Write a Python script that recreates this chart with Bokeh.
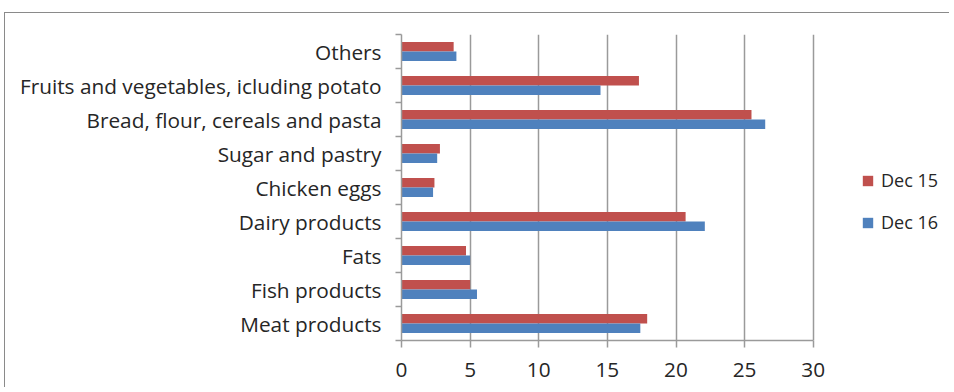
from bokeh.plotting import figure
from bokeh.models import ColumnDataSource, Range1d, FixedTicker, Legend, LegendItem
from bokeh.transform import dodge
from bokeh.embed import file_html
from bokeh.resources import INLINE

categories = ["Meat products", "Fish products", "Fats", "Dairy products", "Chicken eggs",
              "Sugar and pastry", "Bread, flour, cereals and pasta",
              "Fruits and vegetables, icluding potato", "Others"]
dec15 = [17.9, 5.0, 4.7, 20.7, 2.4, 2.8, 25.5, 17.3, 3.8]
dec16 = [17.4, 5.5, 5.0, 22.1, 2.3, 2.6, 26.5, 14.5, 4.0]
x_ticks = [0, 5, 10, 15, 20, 25, 30]
series_names = ["Dec 15", "Dec 16"]

FONT = "Open Sans"
TEXT = "#262626"
RED = "#C0504D"
BLUE = "#4F81BD"
GRID = "#9a9a9a"

n = len(categories)
pos = [i + 0.5 for i in range(n)]
src = ColumnDataSource(dict(pos=pos, cat=categories, dec15=dec15, dec16=dec16))

# frame extends right of 30 so the legend can live inside it; axis/grid bounded to 0..30
p = figure(width=945, height=375, output_backend="svg", toolbar_location=None,
           x_range=Range1d(0, 40), y_range=Range1d(0, n),
           min_border_left=396, min_border_top=21, min_border_right=0,
           min_border_bottom=48)
p.outline_line_color = None
p.background_fill_color = "white"
p.border_fill_color = "white"
p.styles = {"margin-left": "4px", "margin-top": "12px",
            "border-left": "1px solid #8a8a8a", "border-top": "1px solid #8a8a8a"}

r15 = p.hbar(y=dodge("pos", 0.14, range=p.y_range), right="dec15", left=0, height=0.28,
             source=src, fill_color=RED, line_color=None)
r16 = p.hbar(y=dodge("pos", -0.14, range=p.y_range), right="dec16", left=0, height=0.28,
             source=src, fill_color=BLUE, line_color=None)

# x axis
xa = p.xaxis[0]
xa.ticker = FixedTicker(ticks=x_ticks)
xa.bounds = (x_ticks[0], x_ticks[-1])
xa.axis_line_color = GRID
xa.axis_line_width = 1.5
xa.major_tick_line_color = GRID
xa.major_tick_line_width = 1.5
xa.major_tick_out = 7
xa.major_tick_in = 0
xa.minor_tick_line_color = None
xa.major_label_text_font = FONT
xa.major_label_text_font_size = "20.8px"
xa.major_label_text_color = TEXT
xa.major_label_standoff = 15

p.xgrid.ticker = FixedTicker(ticks=x_ticks)
p.xgrid.bounds = (0, n)
p.xgrid.grid_line_color = GRID
p.xgrid.grid_line_width = 1.5
p.ygrid.grid_line_color = None

# y axis
ya = p.yaxis[0]
ya.ticker = FixedTicker(ticks=pos, minor_ticks=list(range(n + 1)))
ya.major_label_overrides = {pv: c for pv, c in zip(pos, categories)}
ya.axis_line_color = GRID
ya.axis_line_width = 1.5
ya.major_tick_line_color = None
ya.major_tick_out = 0
ya.major_tick_in = 0
ya.minor_tick_line_color = GRID
ya.minor_tick_line_width = 1.5
ya.minor_tick_out = 6
ya.minor_tick_in = 0
ya.major_label_text_font = FONT
ya.major_label_text_font_size = "20.8px"
ya.major_label_text_color = TEXT
ya.major_label_standoff = 14

legend = Legend(items=[LegendItem(label=series_names[0], renderers=[r15]),
                       LegendItem(label=series_names[1], renderers=[r16])],
                location=(460, 106), orientation="vertical")
legend.label_text_font = FONT
legend.label_text_font_size = "18px"
legend.label_text_color = TEXT
legend.glyph_width = 13
legend.glyph_height = 13
legend.label_height = 22
legend.spacing = 18
legend.label_standoff = 7
legend.padding = 0
legend.margin = 0
legend.border_line_color = None
legend.background_fill_alpha = 0
p.add_layout(legend, "center")

open("out.html", "w").write(file_html(p, INLINE))
